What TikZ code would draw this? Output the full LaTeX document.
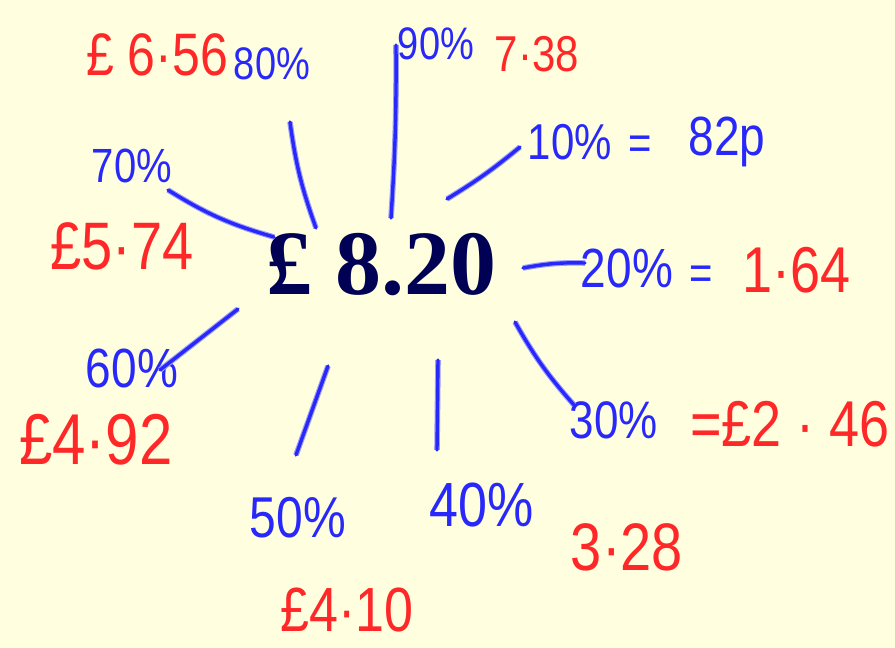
\documentclass[tikz,border=0pt]{standalone}
\usepackage{fontspec}
\setmainfont{Liberation Sans}
\newfontfamily\mainserif{Liberation Serif}
\definecolor{bgyellow}{RGB}{255,255,224}
\definecolor{penblue}{RGB}{40,40,250}
\definecolor{penred}{RGB}{255,40,40}
\definecolor{navy}{RGB}{0,0,85}
\newcommand{\hw}[1]{\scalebox{1}[1.2]{#1}}
\begin{document}
\begin{tikzpicture}[x=1pt,y=-1pt,
  bluetxt/.style={text=penblue,inner sep=0pt,font=\fontsize{#1}{#1}\selectfont},
  redtxt/.style={text=penred,inner sep=0pt,font=\fontsize{#1}{#1}\selectfont},
  pen/.style={draw=penblue,line width=3.4pt,line cap=round,line join=round,
    preaction={draw=penblue!45,line width=5.6pt}}]
\fill[bgyellow] (0,0) rectangle (895,648);
\useasboundingbox (0,0) rectangle (895,648);

\node[inner sep=0pt,text=navy,font=\mainserif\bfseries\fontsize{92}{92}\selectfont] (main) at (381,265) {£ 8.20};

% labels
\node[redtxt=50] (r80) at (157,55) {\hw{£ 6·56}};
\node[bluetxt=38] (p80) at (272,64) {\hw{80\%}};
\node[bluetxt=38] (p90) at (436,44) {\hw{90\%}};
\node[redtxt=42] (r90) at (537,54) {\hw{7·38}};
\node[bluetxt=42] (p10) at (570,142) {\hw{10\%}};
\node[bluetxt=40] (eq10) at (640,148) {\hw{=}};
\node[bluetxt=46] (r10) at (727,142) {\hw{82p}};
\node[bluetxt=40] (p70) at (132,166) {\hw{70\%}};
\node[redtxt=56] (r70) at (122,246) {\hw{£5·74}};
\node[bluetxt=46] (p20) at (627,268) {\hw{20\%}};
\node[bluetxt=40] (eq20) at (701,278) {\hw{=}};
\node[redtxt=54] (r20) at (797,270) {\hw{1·64}};
\node[bluetxt=46] (p60) at (132,368) {\hw{60\%}};
\node[redtxt=60] (r60) at (96,440) {\hw{£4·92}};
\node[bluetxt=48] (p50) at (298,518) {\hw{50\%}};
\node[redtxt=52] (r50) at (347,610) {\hw{£4·10}};
\node[bluetxt=52] (p40) at (482,505) {\hw{40\%}};
\node[redtxt=56] (r40) at (627,547) {\hw{3·28}};
\node[bluetxt=44] (p30) at (614,420) {\hw{30\%}};
\node[redtxt=54] (r30) at (790,424) {\hw{=£2 · 46}};

% connector end points
\coordinate (a80) at (290,122);  \coordinate (b80) at (316,228);
\coordinate (a90) at (396,45);   \coordinate (b90) at (391,218);
\coordinate (a10) at (520,147);  \coordinate (b10) at (447,199);
\coordinate (a70) at (168,190);  \coordinate (b70) at (274,237);
\coordinate (a20) at (585,263);  \coordinate (b20) at (523,268);
\coordinate (a60) at (160,370);  \coordinate (b60) at (238,309);
\coordinate (a50) at (296,455);  \coordinate (b50) at (328,366);
\coordinate (a40) at (437,450);  \coordinate (b40) at (438,360);
\coordinate (a30) at (574,405);  \coordinate (b30) at (515,322);

\draw[pen] (a80) to[bend right=6] (b80);
\draw[pen] (a90) to[bend left=2] (b90);
\draw[pen] (a10) to[bend left=4] (b10);
\draw[pen] (a70) to[bend right=8] (b70);
\draw[pen] (a20) to[bend right=6] (b20);
\draw[pen] (a60) -- (b60);
\draw[pen] (a50) -- (b50);
\draw[pen] (a40) -- (b40);
\draw[pen] (a30) to[bend left=6] (b30);
\end{tikzpicture}
\end{document}
